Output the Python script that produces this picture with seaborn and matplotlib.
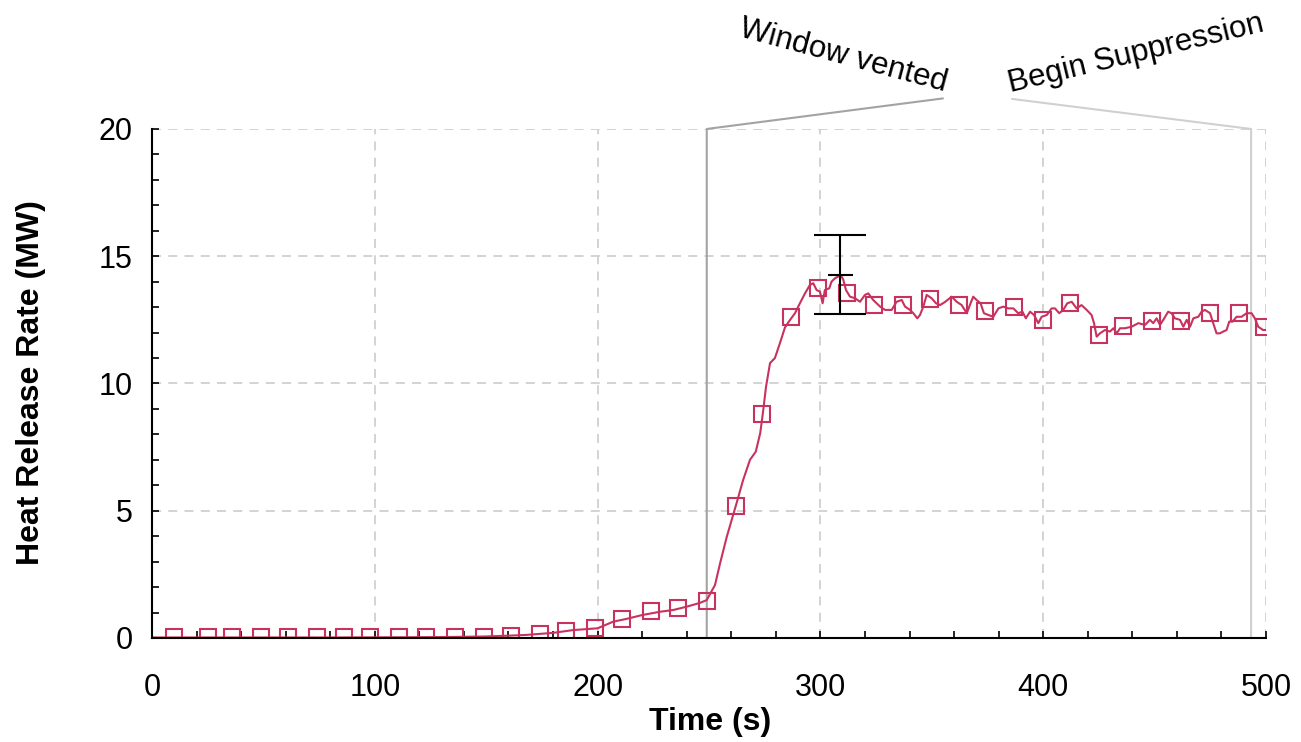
import numpy as np
import pandas as pd
import matplotlib.pyplot as plt
from matplotlib.ticker import MultipleLocator
import seaborn as sns

# =========================
# Data
# =========================
time_s = [0, 40, 80, 120, 135, 150, 160, 168, 180, 189, 200, 207, 213, 220, 228, 234, 240,
          246, 249, 252.7, 255, 258, 260.2, 262.4, 265.3, 268.4, 271, 273, 274.2, 275.6,
          277.4, 279.6, 281.9, 284.1, 286, 288.6, 290.8, 293.1, 295.3, 296.8, 298.3, 299.8,
          301, 302, 304, 305, 306.5, 308, 309.2, 310.3, 311.5, 313.3, 315.5, 317.8, 320,
          321.5, 323.7, 326.8, 329, 332, 334.2, 336.5, 338, 340.2, 341.7, 343.5, 344.7,
          346.2, 347.7, 349.9, 351.9, 353.7, 355.9, 358.9, 361.2, 363.4, 365.7, 367.4,
          368.6, 370.1, 371.9, 373.4, 375.4, 377.6, 379.9, 382.1, 384.3, 386.6, 388.8,
          390.7, 392.2, 394.1, 395.9, 397.8, 399.3, 401.6, 403.8, 405.3, 407.2, 409,
          410.8, 412.8, 415, 417.2, 419.5, 421.7, 422.8, 424, 425.5, 427.7, 430, 431.5,
          433, 434.5, 436.7, 439.7, 442.7, 445.7, 447.9, 449.4, 450.9, 452.4, 453.9,
          456.1, 457.6, 459.1, 461.4, 462.9, 464.4, 465.9, 467.4, 469.6, 471.1, 472.6,
          474.9, 476.3, 477.8, 479.3, 480.8, 482.3, 483.5, 485, 486.8, 489, 491.3, 493.5,
          495, 496.5, 498.7, 500]
hrr_mw = [0.02, 0.02, 0.02, 0.03, 0.04, 0.06, 0.09, 0.12, 0.2, 0.31, 0.38, 0.64, 0.75, 0.9,
          1.03, 1.1, 1.23, 1.38, 1.49, 2.08, 2.94, 3.98, 4.64, 5.3, 6.2, 7.0, 7.32, 8.05,
          8.84, 9.87, 10.8, 11.0, 11.6, 12.2, 12.45, 12.76, 13.15, 13.54, 13.87, 13.94,
          13.67, 13.61, 13.15, 13.67, 13.74, 14.0, 14.13, 14.2, 14.26, 14.07, 13.67, 13.41,
          13.35, 13.21, 13.48, 13.54, 13.28, 13.02, 12.89, 12.89, 13.21, 13.28, 13.02,
          12.89, 12.76, 12.56, 12.69, 13.02, 13.48, 13.35, 13.15, 13.08, 13.2, 13.41,
          13.21, 13.08, 12.76, 13.15, 13.41, 13.28, 13.15, 12.76, 12.69, 12.62, 12.95,
          13.02, 12.95, 12.95, 12.76, 12.82, 12.56, 12.82, 12.69, 12.37, 12.62, 12.69,
          12.95, 12.95, 12.76, 12.89, 13.15, 13.21, 12.95, 13.08, 12.89, 12.69, 12.37,
          11.84, 11.97, 12.1, 12.04, 12.17, 11.97, 12.17, 12.17, 12.23, 12.37, 12.3, 12.5,
          12.37, 12.56, 12.3, 12.5, 12.82, 12.76, 12.56, 12.5, 12.23, 12.5, 12.23, 12.56,
          12.62, 12.82, 12.89, 12.76, 12.37, 11.97, 11.97, 12.04, 12.1, 12.43, 12.43,
          12.62, 12.62, 12.76, 12.76, 12.56, 12.23, 12.1, 12.1]

marker_time = [10, 25, 36, 49, 61, 74, 86, 98, 111, 123, 136, 149, 161, 174, 186, 199, 211,
               224, 236, 249, 262, 274, 287, 299, 312, 324, 337, 349, 362, 374, 387, 400,
               412, 425, 436, 449, 462, 475, 488, 499]
marker_hrr = [0.02, 0.02, 0.02, 0.02, 0.02, 0.02, 0.02, 0.02, 0.02, 0.02, 0.02, 0.02, 0.07,
              0.17, 0.26, 0.4, 0.73, 1.06, 1.17, 1.47, 5.2, 8.8, 12.6, 13.75, 13.55, 13.1,
              13.1, 13.3, 13.1, 12.85, 13.0, 12.5, 13.15, 11.9, 12.25, 12.45, 12.45, 12.75,
              12.75, 12.2]

err_time = [309]
err_hrr = [14.27]
err_size = [1.56]

event_time = [249, 493.3]
event_label = ['Window vented', 'Begin Suppression']
event_color = ['#a3a3a3', '#d0d0d0']

line_color = '#c8325f'

curve = pd.DataFrame({'time': time_s, 'hrr': hrr_mw})
marks = pd.DataFrame({'time': marker_time, 'hrr': marker_hrr})

# =========================
# Style
# =========================
sns.set_style('ticks')
plt.rcParams['font.family'] = ['Liberation Sans', 'DejaVu Sans']
plt.rcParams['text.color'] = 'black'
plt.rcParams['axes.labelcolor'] = 'black'
plt.rcParams['xtick.color'] = 'black'
plt.rcParams['ytick.color'] = 'black'

fig = plt.figure(figsize=(13.01, 7.42), dpi=100)
ax = fig.add_axes([0.1168, 0.1402, 0.8563, 0.6860])

# =========================
# Plot
# =========================
sns.lineplot(data=curve, x='time', y='hrr', ax=ax, color=line_color, lw=1.5, sort=False)
sns.lineplot(data=marks, x='time', y='hrr', ax=ax, linestyle='none', marker='s',
             markersize=11, markerfacecolor='none', markeredgecolor=line_color,
             markeredgewidth=1.5, color=line_color)

ax.errorbar(err_time, err_hrr, yerr=err_size, fmt='_', color='black', ms=18, mew=1.5,
            capsize=19, capthick=1.5, elinewidth=1.5, zorder=4)

# event lines + angled labels above the plot
label_pos = [(355, 21.2), (386, 21.18)]
label_rot = [-15, 13.5]
label_ha = ['right', 'left']
for t, lab, col, (lx, ly), rot, ha in zip(event_time, event_label, event_color,
                                          label_pos, label_rot, label_ha):
    ax.plot([t, t, lx], [0, 20, ly], color=col, lw=1.5, clip_on=False, zorder=1)
    ax.text(lx, ly, lab, rotation=rot, rotation_mode='anchor', ha=ha, va='bottom',
            fontsize=22.5, color='black')

ax.set_xlim(0, 500)
ax.set_ylim(0, 20)
ax.xaxis.set_major_locator(MultipleLocator(100))
ax.xaxis.set_minor_locator(MultipleLocator(20))
ax.yaxis.set_major_locator(MultipleLocator(5))
ax.yaxis.set_minor_locator(MultipleLocator(1))

ax.grid(True, which='major', color='#d0d0d0', linestyle=(0, (5, 4)), lw=1.3)
ax.set_axisbelow(True)

for side in ['top', 'right']:
    ax.spines[side].set_visible(False)
for side in ['left', 'bottom']:
    ax.spines[side].set_color('black')
    ax.spines[side].set_linewidth(1.5)

ax.tick_params(which='both', direction='in', color='black', width=1.2,
               bottom=True, left=True, top=False, right=False)
ax.tick_params(which='major', length=5)
ax.tick_params(which='minor', length=5)
ax.tick_params(axis='x', which='major', labelsize=22, pad=25)
ax.tick_params(axis='y', which='major', labelsize=22, pad=14)

ax.set_xlabel('Time (s)', fontsize=23, fontweight='bold')
ax.set_ylabel('Heat Release Rate (MW)', fontsize=23, fontweight='bold')
ax.xaxis.set_label_coords(0.501, -0.135)
ax.yaxis.set_label_coords(-0.095, 0.501)

plt.savefig('out.png', dpi=100)
